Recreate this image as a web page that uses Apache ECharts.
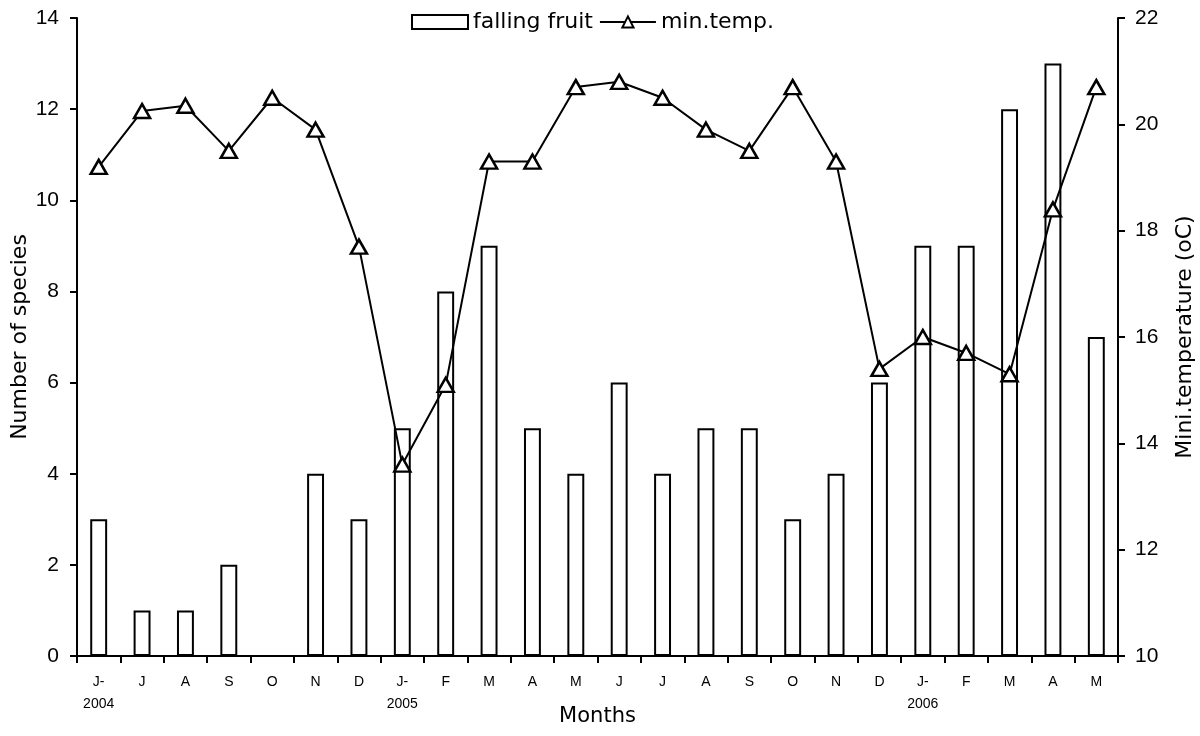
<!DOCTYPE html>
<html><head><meta charset="utf-8">
<script src="https://cdn.jsdelivr.net/npm/echarts@6/dist/echarts.min.js"></script>
<style>html,body{margin:0;padding:0;background:#fff}#c{width:1200px;height:736px}</style>
</head><body><div id="c"></div>
<script>
const months = ['J-','J','A','S','O','N','D','J-','F','M','A','M','J','J','A','S','O','N','D','J-','F','M','A','M'];
const years = ['2004','','','','','','','2005','','','','','','','','','','','','2006','','','',''];
const fallingFruit = [3,1,1,2,0,4,3,5,8,9,5,4,6,4,5,5,3,4,6,9,9,12,13,7];
const minTemp = [19.2,20.25,20.35,19.5,20.5,19.9,17.7,13.6,15.1,19.3,19.3,20.7,20.8,20.5,19.9,19.5,20.7,19.3,15.4,16.0,15.7,15.3,18.4,20.7];
const leftTicks = [0,14,2];
const rightTicks = [10,22,2];

const font = 'Liberation Sans, Arial, sans-serif';
const wfont = 'DejaVu Sans, sans-serif';
const chart = echarts.init(document.getElementById('c'));
chart.setOption({
  animation:false,
  backgroundColor:'#fff',
  textStyle:{fontFamily:font,color:'#000'},
  legend:{
    top:6,left:406,itemGap:6,itemWidth:56,itemHeight:14,
    textStyle:{fontSize:22,fontFamily:wfont,color:'#000'},
    data:[{name:'falling fruit',icon:'rect'},{name:'min.temp.'}]
  },
  grid:{left:77,right:82,top:18,bottom:80,containLabel:false,outerBoundsMode:'none'},
  xAxis:{
    type:'category',
    data:months.map((m,i)=>years[i]?m+'\n{y|'+years[i]+'}':m+'\n{y| }'),
    name:'Months',nameLocation:'middle',nameGap:61,nameMoveOverlap:false,
    nameTextStyle:{fontSize:21,fontFamily:wfont,color:'#000',verticalAlign:'middle'},
    axisLine:{lineStyle:{color:'#000',width:2}},
    axisTick:{show:true,inside:false,length:7,lineStyle:{color:'#000',width:2}},
    axisLabel:{interval:0,fontSize:14,color:'#000',fontFamily:font,margin:16,lineHeight:20,
      rich:{y:{fontSize:14,color:'#000',fontFamily:font,lineHeight:24,align:'center'}}}
  },
  yAxis:[
    {type:'value',min:leftTicks[0],max:leftTicks[1],interval:leftTicks[2],
     name:'Number of species',nameLocation:'middle',nameGap:46,nameRotate:90,nameMoveOverlap:false,
     nameTextStyle:{fontSize:22,fontFamily:wfont,color:'#000'},
     axisLine:{show:true,lineStyle:{color:'#000',width:2}},
     axisTick:{show:true,length:7,lineStyle:{color:'#000',width:2}},
     splitLine:{show:false},
     axisLabel:{fontSize:21,color:'#000',fontFamily:font,margin:18}},
    {type:'value',min:rightTicks[0],max:rightTicks[1],interval:rightTicks[2],position:'right',
     name:'Mini.temperature (oC)',nameLocation:'middle',nameGap:56,nameRotate:90,nameMoveOverlap:false,
     nameTextStyle:{fontSize:22,fontFamily:wfont,color:'#000'},
     axisLine:{show:true,lineStyle:{color:'#000',width:2}},
     axisTick:{show:true,length:7,lineStyle:{color:'#000',width:2}},
     splitLine:{show:false},
     axisLabel:{fontSize:21,color:'#000',fontFamily:font,margin:17}}
  ],
  series:[
    {name:'falling fruit',type:'bar',yAxisIndex:0,data:fallingFruit,barWidth:'39%',
     itemStyle:{color:'#fff',borderColor:'#000',borderWidth:2}},
    {name:'min.temp.',type:'line',yAxisIndex:1,data:minTemp,symbol:'triangle',symbolSize:[16,14],
     lineStyle:{color:'#000',width:2},
     itemStyle:{color:'#fff',borderColor:'#000',borderWidth:2.5},z:5}
  ]
});
</script></body></html>
